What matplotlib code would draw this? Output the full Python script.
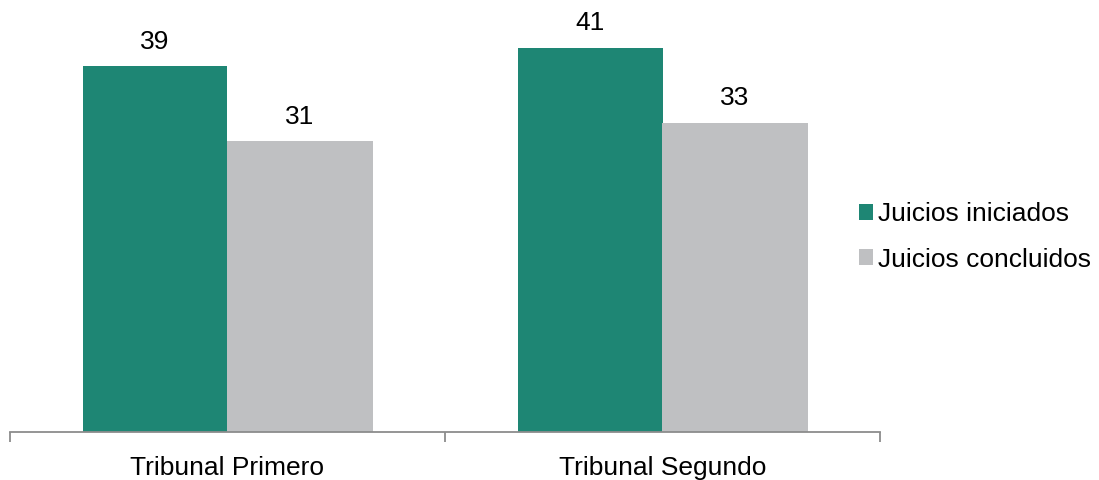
from matplotlib import pyplot as plt
import numpy as np

categories = ["Tribunal Primero", "Tribunal Segundo"]
iniciados = [39, 41]
concluidos = [31, 33]
series_labels = ["Juicios iniciados", "Juicios concluidos"]
colors = ["#1e8674", "#bfc0c2"]

plt.rcParams['font.family'] = ['Liberation Sans', 'DejaVu Sans']

fig = plt.figure(figsize=(10.99, 4.8), dpi=100)
ax = fig.add_axes([10 / 1099, 48 / 480, 870 / 1099, 422 / 480])

ind = np.arange(len(categories))
width = 1 / 3
b1 = ax.bar(ind - width / 2, iniciados, width, color=colors[0], label=series_labels[0])
b2 = ax.bar(ind + width / 2, concluidos, width, color=colors[1], label=series_labels[1])

for bars in (b1, b2):
    for rect in bars:
        ax.annotate(str(int(rect.get_height())),
                    (rect.get_x() + rect.get_width() / 2, rect.get_height()),
                    xytext=(0, 9), textcoords="offset points",
                    ha="center", va="bottom", fontsize=19)

ax.set_xlim(-0.5, len(categories) - 0.5)
ax.set_ylim(0, 45)

for s in ["top", "right", "left"]:
    ax.spines[s].set_visible(False)
ax.spines["bottom"].set_color("#8c8c8c")
ax.spines["bottom"].set_linewidth(1.3)

ax.set_yticks([])
ax.set_xticks(np.arange(len(categories) + 1) - 0.5)
ax.set_xticklabels([])
ax.tick_params(axis="x", which="major", length=7, width=1.3, color="#8c8c8c", direction="out")
ax.set_xticks(ind, minor=True)
ax.set_xticklabels(categories, minor=True, fontsize=19)
ax.tick_params(axis="x", which="minor", length=0, pad=17.5)

ax.legend(loc="center left", bbox_to_anchor=(0.976, 0.462), frameon=False, fontsize=19,
          handlelength=0.53, handleheight=0.53, handletextpad=0.2, labelspacing=0.8,
          borderaxespad=0.0, borderpad=0.0)

fig.savefig("out.png", dpi=100)
